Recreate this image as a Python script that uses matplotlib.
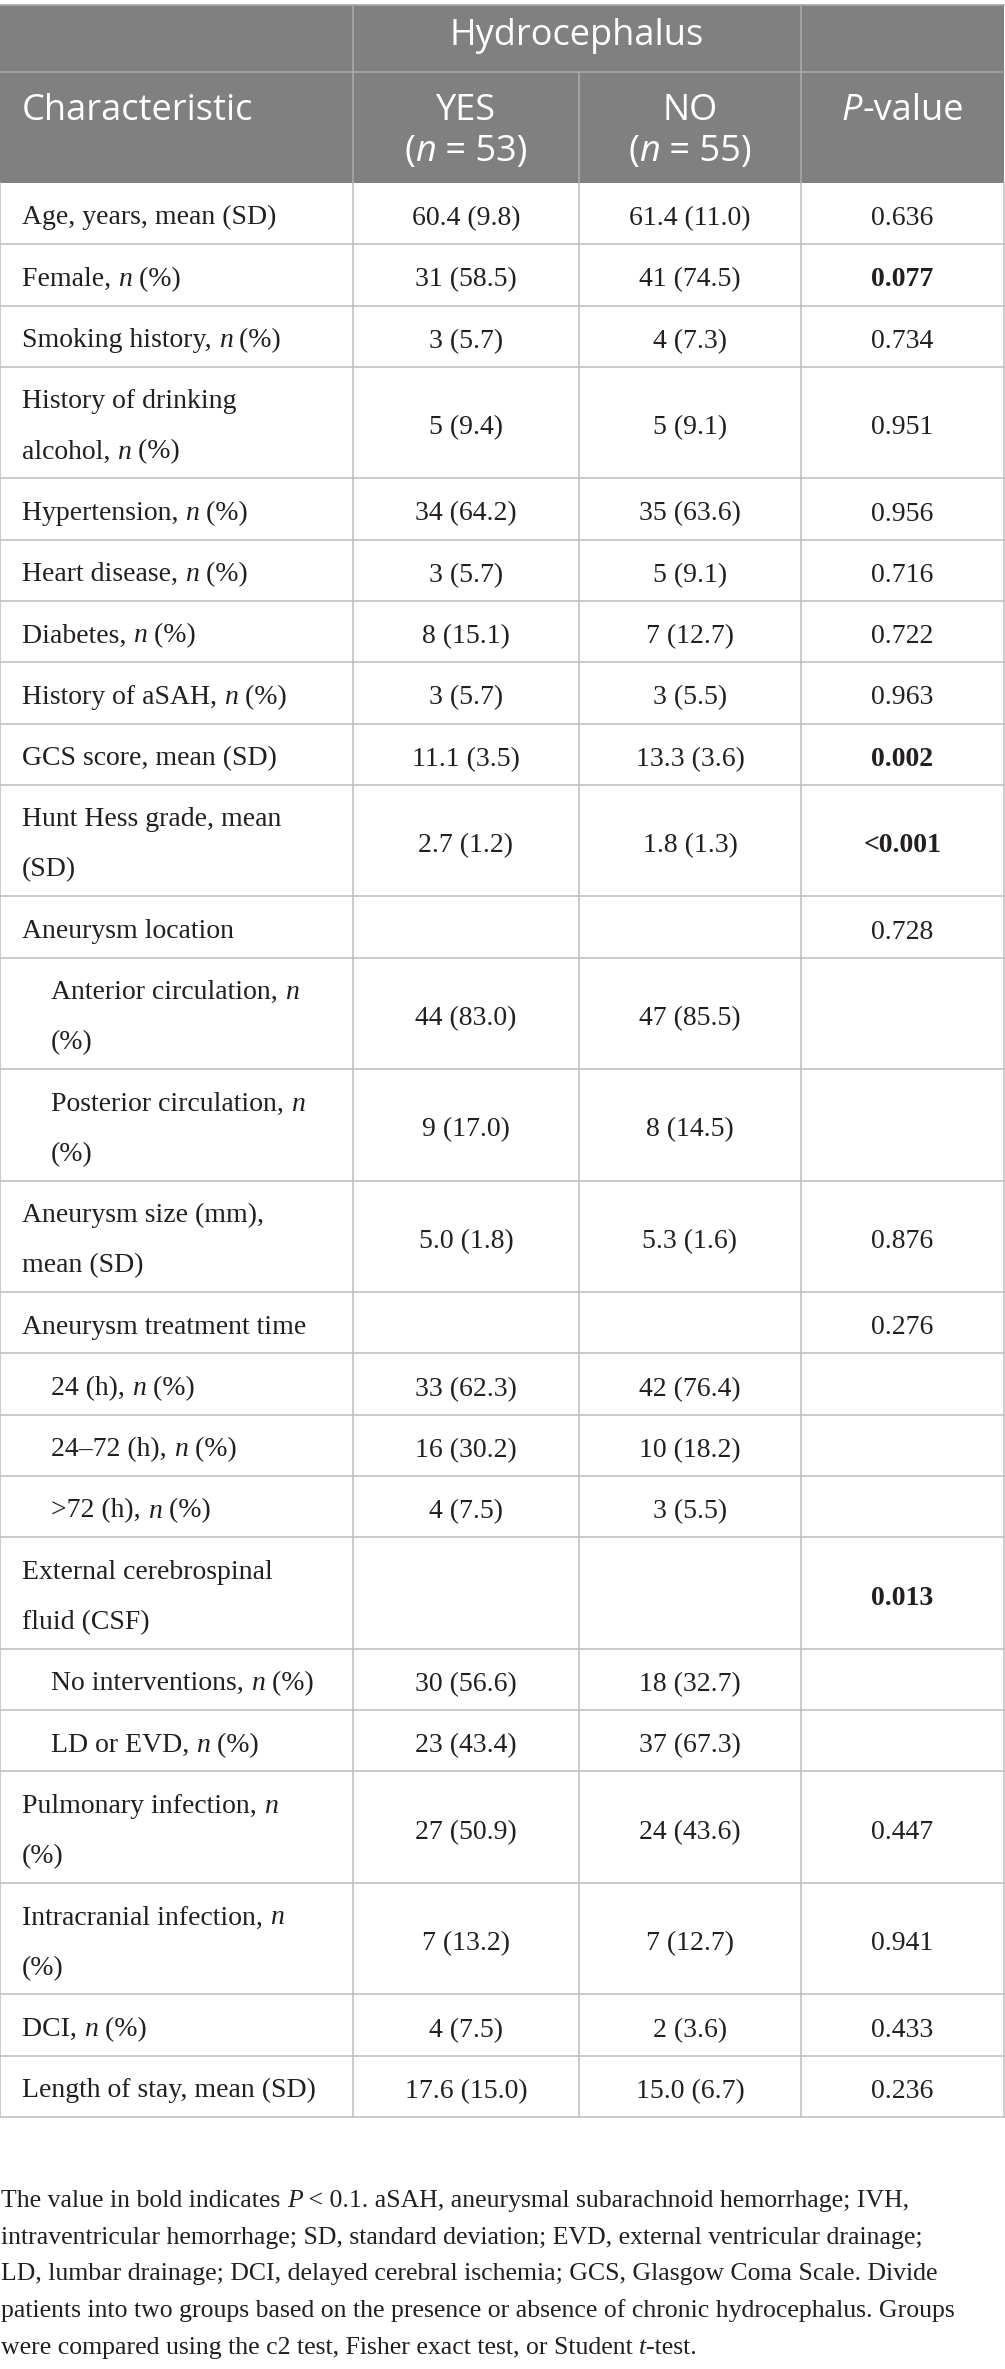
import matplotlib
matplotlib.use("Agg")
import matplotlib.pyplot as plt
from matplotlib.patches import Rectangle

# table data
labels = [
    "Age, years, mean (SD)",
    "Female, *n* (%)",
    "Smoking history, *n* (%)",
    "History of drinking\nalcohol, *n* (%)",
    "Hypertension, *n* (%)",
    "Heart disease, *n* (%)",
    "Diabetes, *n* (%)",
    "History of aSAH, *n* (%)",
    "GCS score, mean (SD)",
    "Hunt Hess grade, mean\n(SD)",
    "Aneurysm location",
    "Anterior circulation, *n*\n(%)",
    "Posterior circulation, *n*\n(%)",
    "Aneurysm size (mm),\nmean (SD)",
    "Aneurysm treatment time",
    "24 (h), *n* (%)",
    "24\u201372 (h), *n* (%)",
    ">72 (h), *n* (%)",
    "External cerebrospinal\nfluid (CSF)",
    "No interventions, *n* (%)",
    "LD or EVD, *n* (%)",
    "Pulmonary infection, *n*\n(%)",
    "Intracranial infection, *n*\n(%)",
    "DCI, *n* (%)",
    "Length of stay, mean (SD)",
]
indent = [0, 0, 0, 0, 0, 0, 0, 0, 0, 0, 0, 1, 1, 0, 0, 1, 1, 1, 0, 1, 1, 0, 0, 0, 0]
yes_vals = ["60.4 (9.8)", "31 (58.5)", "3 (5.7)", "5 (9.4)", "34 (64.2)", "3 (5.7)",
            "8 (15.1)", "3 (5.7)", "11.1 (3.5)", "2.7 (1.2)", "", "44 (83.0)",
            "9 (17.0)", "5.0 (1.8)", "", "33 (62.3)", "16 (30.2)", "4 (7.5)", "",
            "30 (56.6)", "23 (43.4)", "27 (50.9)", "7 (13.2)", "4 (7.5)", "17.6 (15.0)"]
no_vals = ["61.4 (11.0)", "41 (74.5)", "4 (7.3)", "5 (9.1)", "35 (63.6)", "5 (9.1)",
           "7 (12.7)", "3 (5.5)", "13.3 (3.6)", "1.8 (1.3)", "", "47 (85.5)",
           "8 (14.5)", "5.3 (1.6)", "", "42 (76.4)", "10 (18.2)", "3 (5.5)", "",
           "18 (32.7)", "37 (67.3)", "24 (43.6)", "7 (12.7)", "2 (3.6)", "15.0 (6.7)"]
p_vals = ["0.636", "0.077", "0.734", "0.951", "0.956", "0.716", "0.722", "0.963",
          "0.002", "<0.001", "0.728", "", "", "0.876", "0.276", "", "", "", "0.013",
          "", "", "0.447", "0.941", "0.433", "0.236"]
bold_p = ["0.077", "0.002", "<0.001", "0.013"]

header_group = "Hydrocephalus"
header_cols = ["Characteristic", "YES\n(*n* = 53)", "NO\n(*n* = 55)", "*P*-value"]

footnote = [
    "The value in bold indicates *P* < 0.1. aSAH, aneurysmal subarachnoid hemorrhage; IVH,",
    "intraventricular hemorrhage; SD, standard deviation; EVD, external ventricular drainage;",
    "LD, lumbar drainage; DCI, delayed cerebral ischemia; GCS, Glasgow Coma Scale. Divide",
    "patients into two groups based on the presence or absence of chronic hydrocephalus. Groups",
    "were compared using the c2 test, Fisher exact test, or Student *t*-test.",
]

W, H = 1005, 2369
SERIF = "Liberation Serif"
SANS = "Open Sans"
BODY_FS = 20
FOOT_FS = 18.5
HEAD_FS = 26
TXT = "#231f20"
GRID = "#bdbdbd"
HEAD_BG = "#808080"
HEAD_LINE = "#a8a8a8"

col_x = [0, 353, 579, 801, 1004]
head_top, head_mid, head_bot = 5, 72, 183
row_h1, line_gap = 61.3, 50.2

fig = plt.figure(figsize=(W / 100, H / 100), dpi=100)
ax = fig.add_axes([0, 0, 1, 1])
ax.set_xlim(0, W)
ax.set_ylim(H, 0)
ax.axis("off")
renderer = fig.canvas.get_renderer()


def parse(s):
    # *...* marks italic pieces
    parts = s.split("*")
    return [(p, i % 2 == 1) for i, p in enumerate(parts) if p]


_bar = {}


def width(s, **kw):
    key = tuple(sorted(kw.items()))
    if key not in _bar:
        t = ax.text(0, 0, "|", **kw)
        _bar[key] = t.get_window_extent(renderer).width
        t.remove()
    t = ax.text(0, 0, s + "|", **kw)
    w = t.get_window_extent(renderer).width - _bar[key]
    t.remove()
    return w


def runs(x, y, s, family, size, color, bold=False, ha="left"):
    pieces = parse(s)
    styles = []
    for p, it in pieces:
        styles.append(dict(family=family, fontsize=size,
                           style="italic" if it else "normal",
                           weight="bold" if bold else "normal"))
    ws = [width(p, **st) for (p, _), st in zip(pieces, styles)]
    if ha == "center":
        x = x - sum(ws) / 2
    for (p, _), st, w in zip(pieces, styles, ws):
        ax.text(x, y, p, color=color, va="baseline", ha="left", **st)
        x += w


# header block
ax.add_patch(Rectangle((col_x[0], head_top), col_x[-1] - col_x[0], head_bot - head_top,
                       facecolor=HEAD_BG, edgecolor="none"))
ax.plot([col_x[0], col_x[-1]], [head_top, head_top], color=HEAD_LINE, lw=1.2)
ax.plot([col_x[0], col_x[-1]], [head_mid, head_mid], color=HEAD_LINE, lw=1.2)
for cx in [col_x[1], col_x[3]]:
    ax.plot([cx, cx], [head_top, head_bot], color=HEAD_LINE, lw=1.2)
ax.plot([col_x[2], col_x[2]], [head_mid, head_bot], color=HEAD_LINE, lw=1.2)

runs((col_x[1] + col_x[3]) / 2, 45, header_group, SANS, HEAD_FS, "white", ha="center")
runs(22, 120, header_cols[0], SANS, HEAD_FS, "white")
for k in [1, 2]:
    cx = (col_x[k] + col_x[k + 1]) / 2
    for j, line in enumerate(header_cols[k].split("\n")):
        runs(cx, 120 + 41 * j, line, SANS, HEAD_FS, "white", ha="center")
runs((col_x[3] + col_x[4]) / 2, 120, header_cols[3], SANS, HEAD_FS, "white", ha="center")

# body rows
y = head_bot
tops = [y]
for i, lab in enumerate(labels):
    lines = lab.split("\n")
    h = row_h1 + line_gap * (len(lines) - 1)
    lx = 51 if indent[i] else 22
    for j, line in enumerate(lines):
        runs(lx, y + 41.5 + line_gap * j, line, SERIF, BODY_FS, TXT)
    mid = y + h / 2 + 11.5
    for k, v in zip([1, 2, 3], [yes_vals[i], no_vals[i], p_vals[i]]):
        if v:
            runs((col_x[k] + col_x[k + 1]) / 2, mid, v, SERIF, BODY_FS, TXT,
                 bold=(k == 3 and v in bold_p), ha="center")
    y += h
    tops.append(y)

for ty in tops[1:]:
    ax.plot([col_x[0], col_x[-1]], [ty, ty], color=GRID, lw=1.1)
for cx in col_x:
    ax.plot([cx, cx], [head_bot, tops[-1]], color=GRID, lw=1.1)

# footnote
for j, line in enumerate(footnote):
    runs(1, 2207 + 36.7 * j, line, SERIF, FOOT_FS, TXT)

fig.savefig("out.png", dpi=100)
